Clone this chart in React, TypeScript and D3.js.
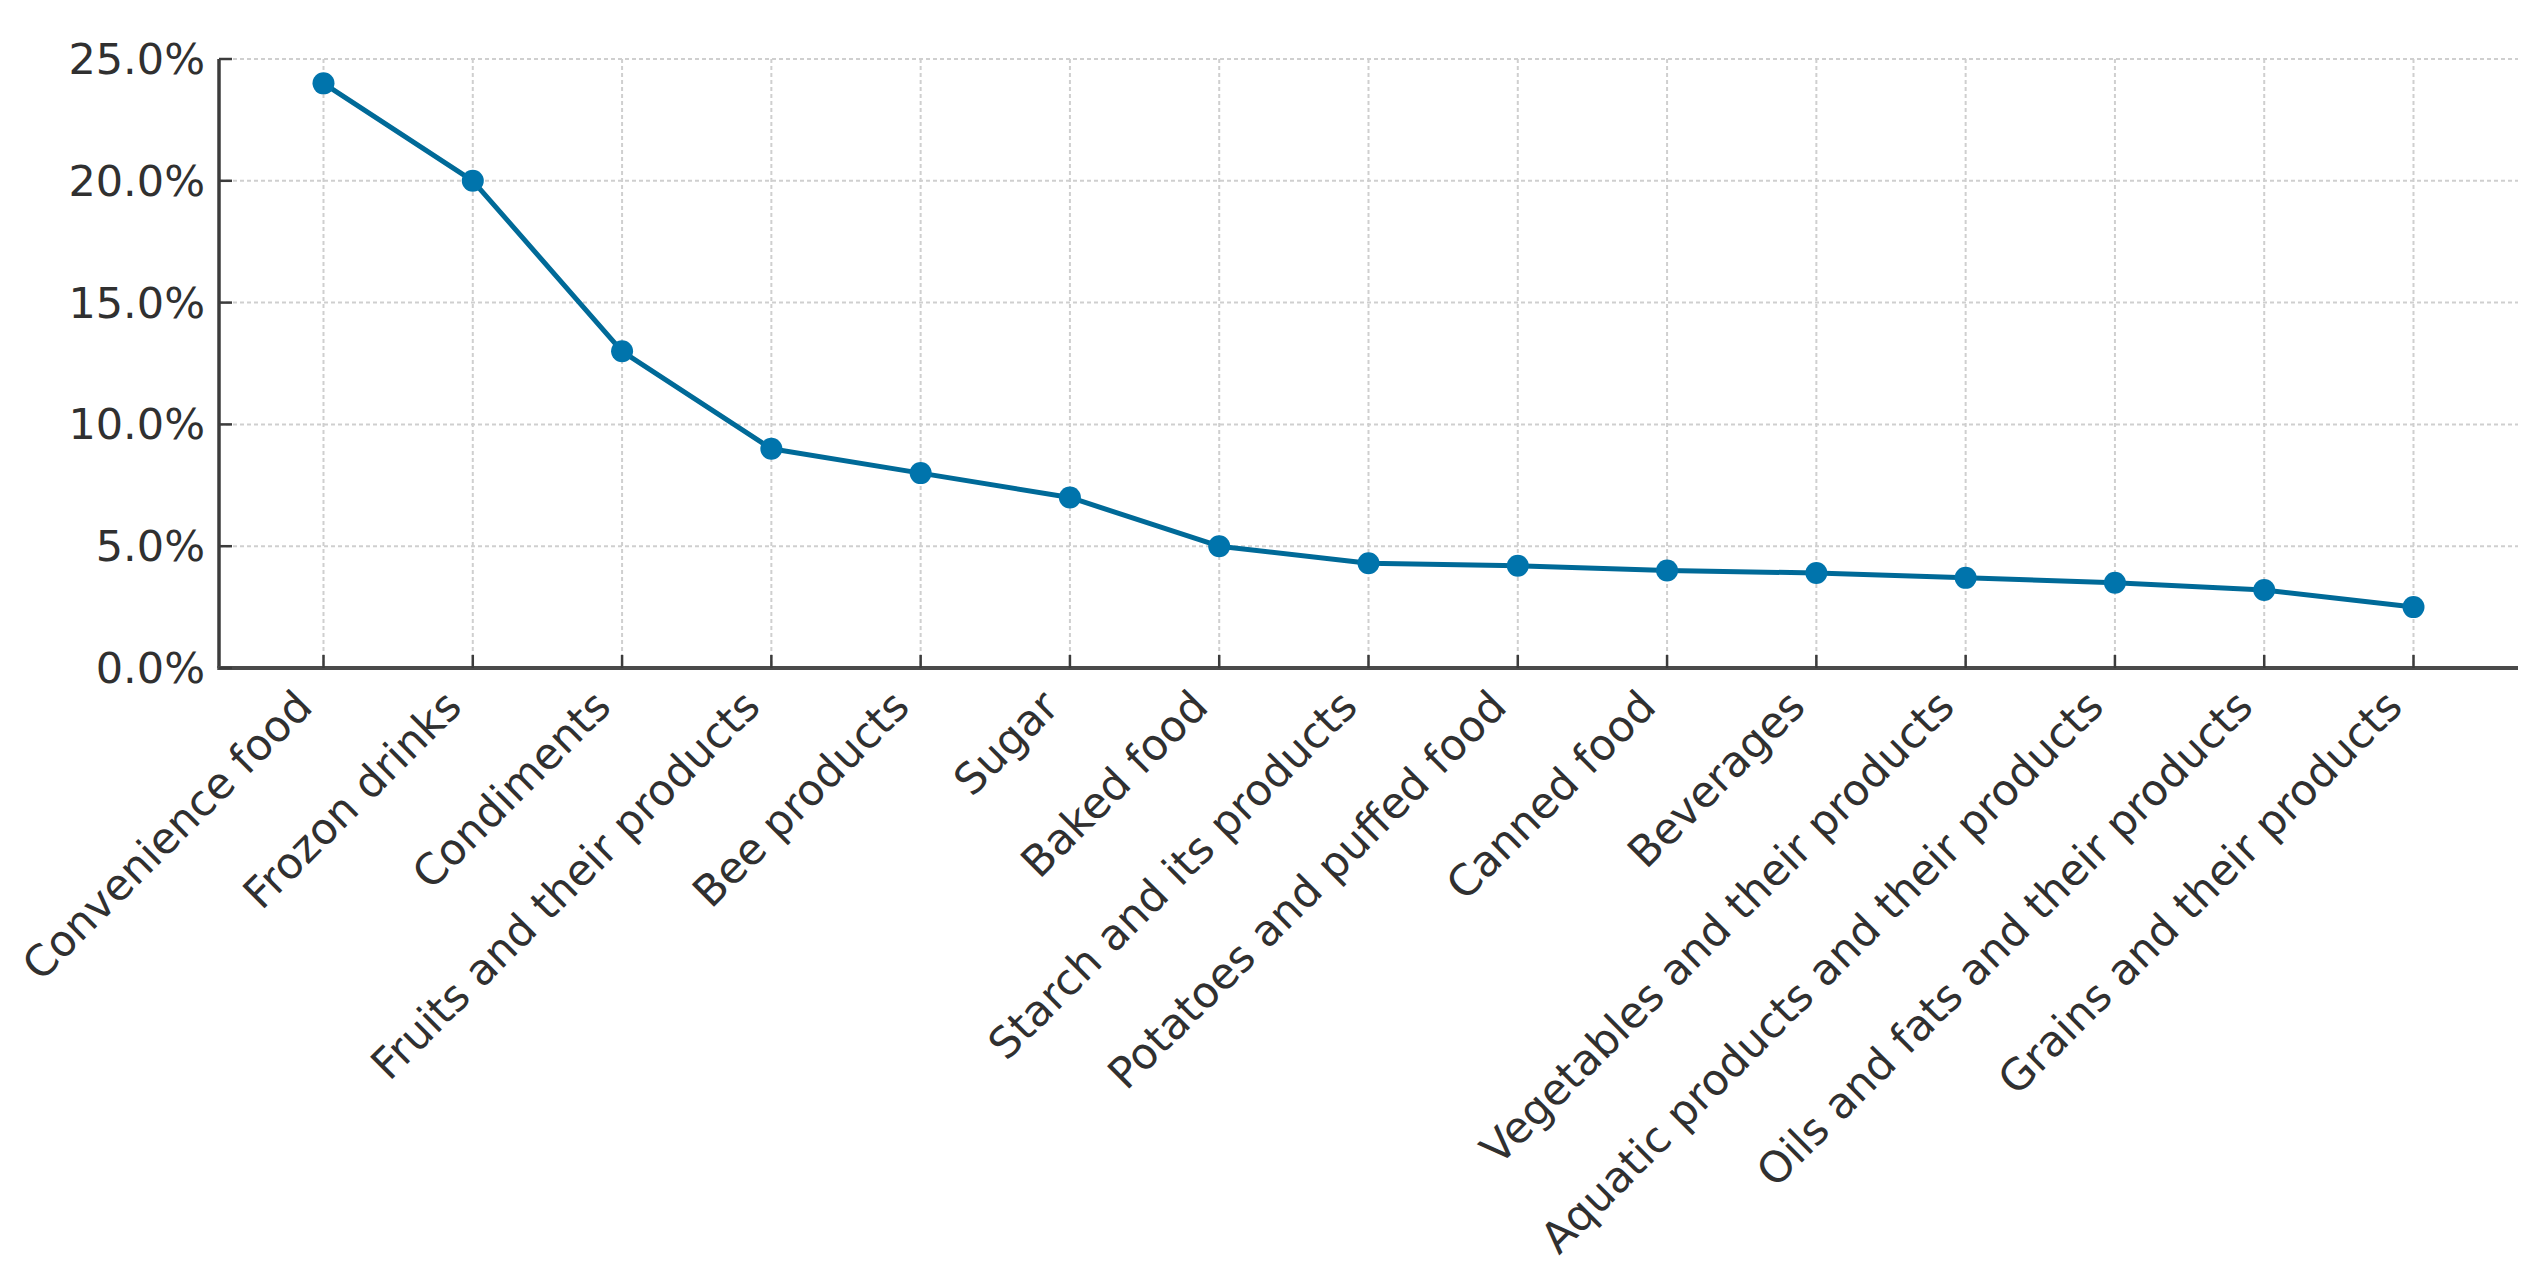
import * as d3 from 'd3';

const categories: string[] = [
  'Convenience food',
  'Frozon drinks',
  'Condiments',
  'Fruits and their products',
  'Bee products',
  'Sugar',
  'Baked food',
  'Starch and its products',
  'Potatoes and puffed food',
  'Canned food',
  'Beverages',
  'Vegetables and their products',
  'Aquatic products and their products',
  'Oils and fats and their products',
  'Grains and their products',
];

const shares: number[] = [
  0.24, 0.2, 0.13, 0.09, 0.08, 0.07, 0.05, 0.043, 0.042, 0.04, 0.039, 0.037, 0.035, 0.032, 0.025,
];

const yTicks: number[] = [0, 0.05, 0.1, 0.15, 0.2, 0.25];

const WIDTH = 2546;
const HEIGHT = 1276;
const FONT = '"DejaVu Sans", Verdana, sans-serif';
const LINE_COLOR = '#006a98';
const MARKER_COLOR = '#0074ac';
const TEXT_COLOR = '#303030';
const GRID_COLOR = '#cfcfcf';
const SPINE_COLOR = '#3c3c3c';

export default function App() {
  const margin = { top: 59, right: 28, bottom: 608, left: 219 };
  const plotRight = WIDTH - margin.right;
  const plotBottom = HEIGHT - margin.bottom;

  // matplotlib-style 5% margins on the categorical axis
  const n = categories.length;
  const pad = (n - 1) * 0.05;
  const x = d3.scaleLinear().domain([-pad, n - 1 + pad]).range([margin.left, plotRight]);
  const y = d3.scaleLinear().domain([0, 0.25]).range([plotBottom, margin.top]);
  const fmt = d3.format('.1%');

  const line = d3
    .line<number>()
    .x((_, i) => x(i))
    .y((d) => y(d));

  return (
    <svg
      width={WIDTH}
      height={HEIGHT}
      style={{ position: 'absolute', left: 0, top: 0, background: '#ffffff' }}
      fontFamily={FONT}
    >
      {/* Grid */}
      <g stroke={GRID_COLOR} strokeWidth={2} strokeDasharray="4,3">
        {yTicks.map((t) => (
          <line key={`gy${t}`} x1={margin.left} x2={plotRight} y1={y(t)} y2={y(t)} />
        ))}
        {categories.map((c, i) => (
          <line key={`gx${c}`} x1={x(i)} x2={x(i)} y1={margin.top} y2={plotBottom} />
        ))}
      </g>

      {/* Spines */}
      <line x1={margin.left} x2={margin.left} y1={margin.top} y2={plotBottom} stroke={SPINE_COLOR} strokeWidth={3.5} />
      <line x1={margin.left - 1.75} x2={plotRight} y1={plotBottom} y2={plotBottom} stroke="#4a4a4a" strokeWidth={4} />

      {/* Y ticks + labels */}
      {yTicks.map((t) => (
        <g key={`ty${t}`}>
          <line x1={margin.left} x2={margin.left + 13} y1={y(t)} y2={y(t)} stroke={SPINE_COLOR} strokeWidth={2.5} />
          <text
            x={margin.left - 14}
            y={y(t)}
            textAnchor="end"
            dominantBaseline="central"
            fontSize={43}
            fill={TEXT_COLOR}
          >
            {fmt(t)}
          </text>
        </g>
      ))}

      {/* X ticks + labels */}
      {categories.map((c, i) => (
        <g key={`tx${c}`}>
          <line x1={x(i)} x2={x(i)} y1={plotBottom} y2={plotBottom - 13} stroke={SPINE_COLOR} strokeWidth={2.5} />
          <text
            transform={`translate(${x(i) - 9},${plotBottom + 41}) rotate(-45)`}
            textAnchor="end"
            fontSize={43}
            fill={TEXT_COLOR}
          >
            {c}
          </text>
        </g>
      ))}

      {/* Series */}
      <path d={line(shares) ?? ''} fill="none" stroke={LINE_COLOR} strokeWidth={5} strokeLinejoin="round" />
      {shares.map((v, i) => (
        <circle key={`p${i}`} cx={x(i)} cy={y(v)} r={11} fill={MARKER_COLOR} />
      ))}
    </svg>
  );
}
